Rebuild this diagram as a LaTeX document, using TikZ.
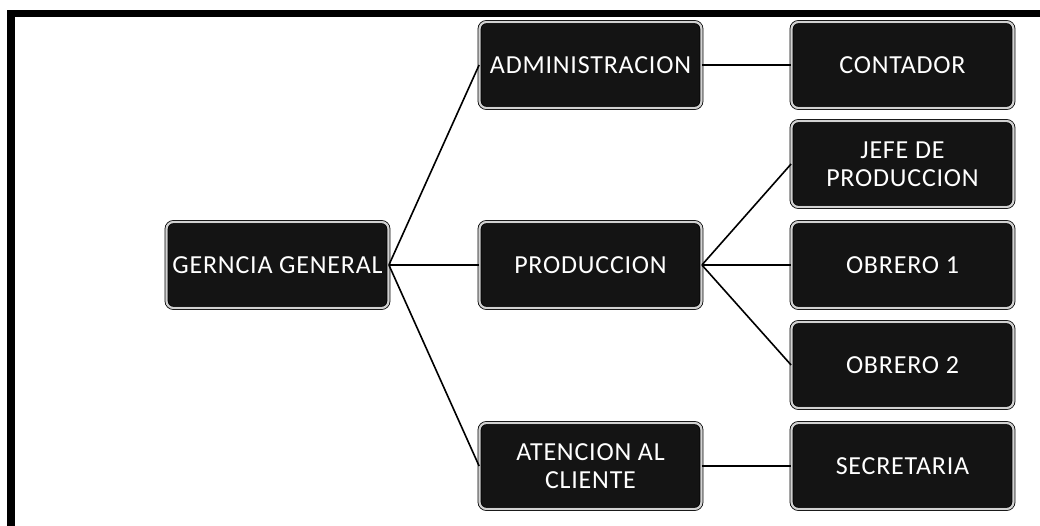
\documentclass[tikz,border=0pt]{standalone}
\usepackage{fontspec}
\setmainfont{Carlito}
\newfontfamily\boxfont[LetterSpace=3]{Carlito}
\begin{document}
\begin{tikzpicture}[
    x=1pt,
    y=-1pt,
    unitbox/.style={draw=black, double=gray!35, double distance=2.2pt, line width=0.8pt,
        fill=black!92, rounded corners=7pt, minimum width=222pt, minimum height=86pt,
        text=white, align=center, inner sep=1pt, font=\boxfont\fontsize{26}{28}\selectfont},
    link/.style={line width=1.6pt, black}
]
\useasboundingbox (0,0) rectangle (1040,526);

% Frame
\draw[line width=7.5pt] (11,526) -- (11,13.5) -- (1040,13.5);

% Level 1
\node[unitbox] (gerencia) at (277.5,265) {GERNCIA GENERAL};

% Level 2
\node[unitbox] (admin) at (590.5,65) {ADMINISTRACION};
\node[unitbox] (prod) at (590.5,265) {PRODUCCION};
\node[unitbox] (atencion) at (590.5,466) {ATENCION AL\\CLIENTE};

% Level 3
\node[unitbox] (contador) at (902.5,65) {CONTADOR};
\node[unitbox] (jefe) at (902.5,164) {JEFE DE\\PRODUCCION};
\node[unitbox] (obrero1) at (902.5,265) {OBRERO 1};
\node[unitbox] (obrero2) at (902.5,365) {OBRERO 2};
\node[unitbox] (secretaria) at (902.5,466) {SECRETARIA};

% Links
\draw[link] (gerencia.east) -- (admin.west);
\draw[link] (gerencia.east) -- (prod.west);
\draw[link] (gerencia.east) -- (atencion.west);
\draw[link] (admin.east) -- (contador.west);
\draw[link] (prod.east) -- (jefe.west);
\draw[link] (prod.east) -- (obrero1.west);
\draw[link] (prod.east) -- (obrero2.west);
\draw[link] (atencion.east) -- (secretaria.west);

\end{tikzpicture}
\end{document}
